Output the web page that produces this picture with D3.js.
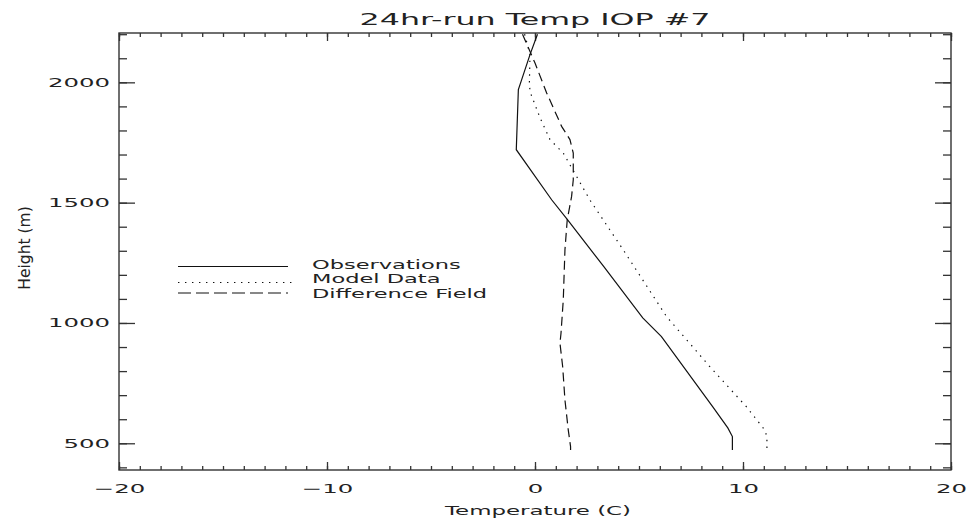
<!DOCTYPE html>
<html>
<head>
<meta charset="utf-8">
<script src="https://cdn.jsdelivr.net/npm/d3@7.9.0/dist/d3.min.js"></script>
<style>
  body { margin: 0; background: #fff; }
  svg text { font-family: "DejaVu Sans", sans-serif; fill: #222; }
</style>
</head>
<body>
<svg id="chart" width="967" height="521"></svg>
<script>
// values (height in m, temperature in C)
const obsHeight = [2200, 2115, 2011, 1970, 1720, 1512, 1429, 1235, 1021, 943, 652, 564, 528, 472];
const obsTemp = [0.12, -0.24, -0.64, -0.8, -0.9, 0.8, 1.56, 3.3, 5.18, 6.08, 8.54, 9.27, 9.49, 9.49];

const modelHeight = [2200, 2115, 1999, 1961, 1853, 1762, 1706, 1511, 1304, 1027, 819, 652, 556, 528, 472];
const modelTemp = [-0.5, -0.24, -0.27, -0.24, 0.24, 0.72, 1.36, 2.64, 4.24, 6.32, 8.4, 10.16, 11.04, 11.15, 11.15];

const diffHeight = [2200, 2080, 1956, 1817, 1762, 1706, 1595, 1526, 1429, 1304, 1096, 957, 916, 819, 680, 555, 486, 472];
const diffTemp = [-0.6, 0.0, 0.56, 1.28, 1.68, 1.84, 1.84, 1.76, 1.55, 1.44, 1.36, 1.25, 1.2, 1.33, 1.44, 1.6, 1.71, 1.71];

const xMajor = [-20, -10, 0, 10, 20];
const yMajor = [500, 1000, 1500, 2000];
const legendLabels = ["Observations", "Model Data", "Difference Field"];

const width = 967, height = 521;
const margin = { top: 33, right: 16, bottom: 51, left: 119 };

const svg = d3.select("#chart");

const x = d3.scaleLinear().domain([-20, 20]).range([margin.left, width - margin.right]);
const y = d3.scaleLinear().domain([389, 2205]).range([height - margin.bottom, margin.top]);

const axisColor = "#333";

function styleAxis(g) {
  g.select(".domain").remove();
  g.selectAll(".tick line").attr("stroke", axisColor).attr("stroke-width", 1.3);
  g.selectAll("text").attr("fill", "#222").attr("font-size", 12.5)
    .attr("font-family", "DejaVu Sans, sans-serif").attr("data-sx", 1.95);
}

// minor ticks
const xMinor = d3.range(-20, 21, 1);
const yMinor = d3.range(400, 2201, 100);

svg.append("g").attr("transform", `translate(0,${y.range()[0]})`)
  .call(d3.axisBottom(x).tickValues(xMinor).tickSize(-4).tickFormat(""))
  .call(styleAxis);
svg.append("g").attr("transform", `translate(0,${y.range()[1]})`)
  .call(d3.axisTop(x).tickValues(xMinor).tickSize(-4).tickFormat(""))
  .call(styleAxis);
svg.append("g").attr("transform", `translate(${x.range()[0]},0)`)
  .call(d3.axisLeft(y).tickValues(yMinor).tickSize(-8).tickFormat(""))
  .call(styleAxis);
svg.append("g").attr("transform", `translate(${x.range()[1]},0)`)
  .call(d3.axisRight(y).tickValues(yMinor).tickSize(-8).tickFormat(""))
  .call(styleAxis);

// major ticks
svg.append("g").attr("transform", `translate(0,${y.range()[0]})`)
  .call(d3.axisBottom(x).tickValues(xMajor).tickSize(-8).tickPadding(14))
  .call(styleAxis);
svg.append("g").attr("transform", `translate(0,${y.range()[1]})`)
  .call(d3.axisTop(x).tickValues(xMajor).tickSize(-8).tickFormat(""))
  .call(styleAxis);
svg.append("g").attr("transform", `translate(${x.range()[0]},0)`)
  .call(d3.axisLeft(y).tickValues(yMajor).tickSize(-16).tickPadding(9).tickFormat(d3.format("d")))
  .call(styleAxis);
svg.append("g").attr("transform", `translate(${x.range()[1]},0)`)
  .call(d3.axisRight(y).tickValues(yMajor).tickSize(-16).tickFormat(""))
  .call(styleAxis);

// plot box
svg.append("rect")
  .attr("x", x.range()[0]).attr("y", y.range()[1])
  .attr("width", x.range()[1] - x.range()[0])
  .attr("height", y.range()[0] - y.range()[1])
  .attr("fill", "none").attr("stroke", axisColor).attr("stroke-width", 1.4);

// curves
const line = d3.line().x(d => x(d[1])).y(d => y(d[0]));

const series = [
  { h: obsHeight, t: obsTemp, dash: null, legendDash: null },
  { h: modelHeight, t: modelTemp, dash: "1.4,5.4", legendDash: "1.4,5.6" },
  { h: diffHeight, t: diffTemp, dash: "9,5", legendDash: "13,5" }
];

series.forEach(s => {
  svg.append("path")
    .datum(d3.zip(s.h, s.t))
    .attr("d", line)
    .attr("fill", "none")
    .attr("stroke", "#111")
    .attr("stroke-width", 1.2)
    .attr("stroke-dasharray", s.dash);
});

// legend
const legendRows = [
  { y: 266.5, textY: 268.5, x2: 288 },
  { y: 282.5, textY: 283, x2: 297 },
  { y: 293, textY: 297.5, x2: 288 }
];
legendLabels.forEach((label, i) => {
  const row = legendRows[i];
  svg.append("line")
    .attr("x1", 178).attr("x2", row.x2)
    .attr("y1", row.y).attr("y2", row.y)
    .attr("stroke", "#111").attr("stroke-width", 1.2)
    .attr("stroke-dasharray", series[i].legendDash);
  svg.append("text").attr("data-sx", 1.8)
    .attr("x", 312).attr("y", row.textY)
    .attr("font-size", 12.5)
    .text(label);
});

// titles
svg.append("text").attr("data-sx", 1.92)
  .attr("x", (x.range()[0] + x.range()[1]) / 2).attr("y", 25)
  .attr("text-anchor", "middle").attr("font-size", 16.5)
  .text("24hr-run Temp IOP #7");

svg.append("text").attr("data-sx", 1.83)
  .attr("x", (x.range()[0] + x.range()[1]) / 2 + 3).attr("y", 515)
  .attr("text-anchor", "middle").attr("font-size", 12.5)
  .text("Temperature (C)");

svg.append("text")
  .attr("transform", `translate(30,248) rotate(-90)`)
  .attr("text-anchor", "middle").attr("font-size", 15.5)
  .text("Height (m)");

// widen the horizontal lettering
svg.selectAll("text[data-sx]").each(function () {
  const el = d3.select(this);
  if (!el.text()) return;
  const len = this.getComputedTextLength();
  el.attr("textLength", len * +el.attr("data-sx")).attr("lengthAdjust", "spacingAndGlyphs");
});
</script>
</body>
</html>
